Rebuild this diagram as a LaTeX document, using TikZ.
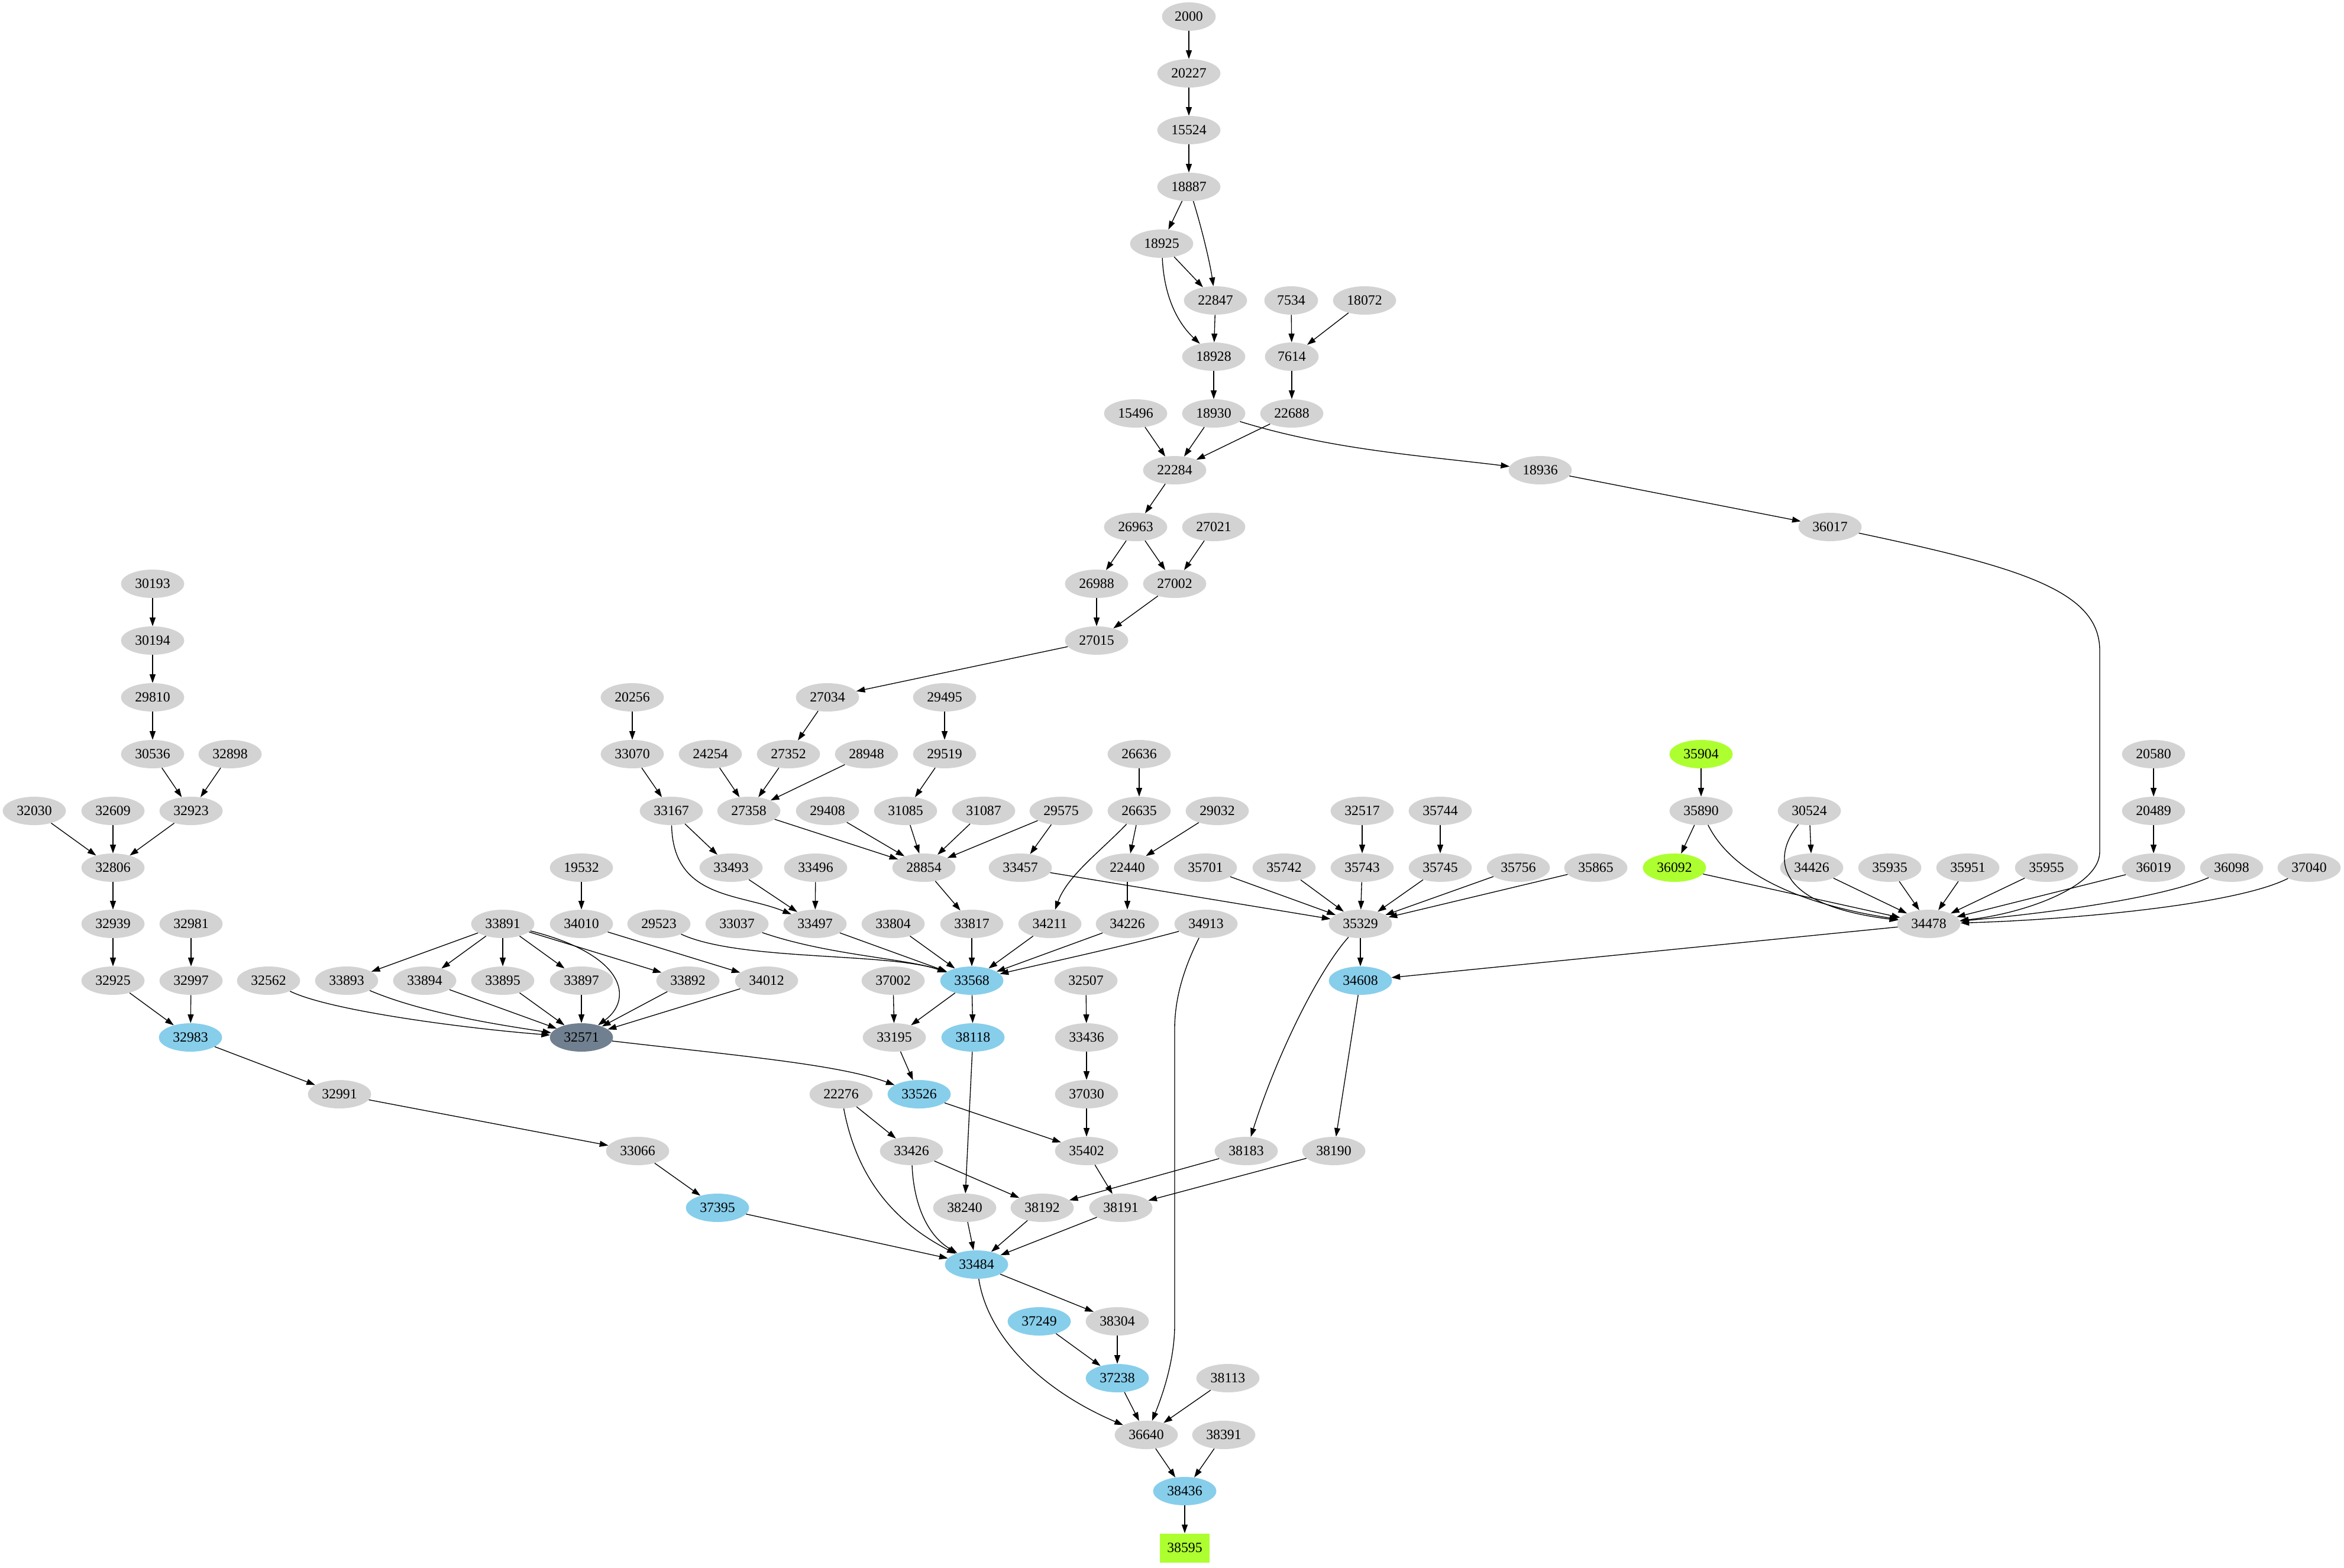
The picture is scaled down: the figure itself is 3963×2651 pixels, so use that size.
\documentclass[tikz,border=0pt]{standalone}
\usepackage{fontspec}
\setmainfont{Liberation Serif}
\usetikzlibrary{shapes.geometric,arrows.meta}
\definecolor{lgray}{HTML}{D3D3D3}
\definecolor{skyb}{HTML}{87CEEB}
\definecolor{slate}{HTML}{708090}
\definecolor{gy}{HTML}{ADFF2F}
\tikzset{
 nd/.style={ellipse, fill=lgray, minimum width=80.25pt, minimum height=36pt, inner sep=0pt, font={\fontsize{17.85}{20}\selectfont}},
 nd4/.style={nd, minimum width=68.25pt},
 blu/.style={nd, fill=skyb},
 grn/.style={nd, fill=gy},
 dk/.style={nd, fill=slate},
 bx/.style={rectangle, fill=gy, minimum width=63pt, minimum height=36.75pt, inner sep=0pt, font={\fontsize{17.85}{20}\selectfont}},
 e/.style={-{Triangle[length=11pt,width=7.5pt]}, line width=1pt},
}
\begin{document}
\begin{tikzpicture}[x=0.75pt,y=-0.75pt]
\useasboundingbox (0,0) rectangle (3963,2651);
% k0-k9
\node[nd4] (n2000) at (2010,28) {2000};
\node[nd] (n20227) at (2010,124) {20227};
\node[nd] (n15524) at (2010,220) {15524};
\node[nd] (n18887) at (2010,316) {18887};
\node[nd] (n18925) at (1964,412) {18925};
\node[nd] (n22847) at (2055,508) {22847};
\node[nd4] (n7534) at (2183,508) {7534};
\node[nd] (n18072) at (2307,508) {18072};
\node[nd] (n18928) at (2052,603) {18928};
\node[nd4] (n7614) at (2184,603) {7614};
\node[nd] (n15496) at (1920,699) {15496};
\node[nd] (n18930) at (2052,699) {18930};
\node[nd] (n22688) at (2184,699) {22688};
\node[nd] (n22284) at (1986,795) {22284};
\node[nd] (n18936) at (2604,795) {18936};
\node[nd] (n26963) at (1920,891) {26963};
\node[nd] (n27021) at (2052,891) {27021};
\node[nd] (n36017) at (3094,891) {36017};
% k10-k12
\node[nd] (n30193) at (258,987) {30193};
\node[nd] (n26988) at (1854,987) {26988};
\node[nd] (n27002) at (1986,987) {27002};
\node[nd] (n30194) at (258,1083) {30194};
\node[nd] (n27015) at (1854,1083) {27015};
\node[nd] (n29810) at (258,1179) {29810};
\node[nd] (n20256) at (1069,1179) {20256};
\node[nd] (n27034) at (1399,1179) {27034};
\node[nd] (n29495) at (1597,1179) {29495};
% k13
\node[nd] (n30536) at (258,1275) {30536};
\node[nd] (n32898) at (389,1275) {32898};
\node[nd] (n33070) at (1069,1275) {33070};
\node[nd] (n24254) at (1201,1275) {24254};
\node[nd] (n27352) at (1333,1275) {27352};
\node[nd] (n28948) at (1465,1275) {28948};
\node[nd] (n29519) at (1597,1275) {29519};
\node[nd] (n26636) at (1926,1275) {26636};
\node[grn] (n35904) at (2876,1275) {35904};
\node[nd] (n20580) at (3641,1275) {20580};
% k14
\node[nd] (n32030) at (58,1371) {32030};
\node[nd] (n32609) at (191,1371) {32609};
\node[nd] (n32923) at (323,1371) {32923};
\node[nd] (n33167) at (1135,1371) {33167};
\node[nd] (n27358) at (1266,1371) {27358};
\node[nd] (n29408) at (1399,1371) {29408};
\node[nd] (n31085) at (1531,1371) {31085};
\node[nd] (n31087) at (1663,1371) {31087};
\node[nd] (n29575) at (1794,1371) {29575};
\node[nd] (n26635) at (1926,1371) {26635};
\node[nd] (n29032) at (2058,1371) {29032};
\node[nd] (n32517) at (2303,1371) {32517};
\node[nd] (n35744) at (2435,1371) {35744};
\node[nd] (n35890) at (2876,1371) {35890};
\node[nd] (n30524) at (3059,1371) {30524};
\node[nd] (n20489) at (3641,1371) {20489};
% k15
\node[nd] (n32806) at (191,1467) {32806};
\node[nd] (n19532) at (983,1467) {19532};
\node[nd] (n33493) at (1236,1467) {33493};
\node[nd] (n33496) at (1379,1467) {33496};
\node[nd] (n28854) at (1562,1467) {28854};
\node[nd] (n33457) at (1725,1467) {33457};
\node[nd] (n22440) at (1906,1467) {22440};
\node[nd] (n35701) at (2038,1467) {35701};
\node[nd] (n35742) at (2171,1467) {35742};
\node[nd] (n35743) at (2303,1467) {35743};
\node[nd] (n35745) at (2435,1467) {35745};
\node[nd] (n35756) at (2567,1467) {35756};
\node[nd] (n35865) at (2698,1467) {35865};
\node[grn] (n36092) at (2831,1467) {36092};
\node[nd] (n34426) at (3063,1467) {34426};
\node[nd] (n35935) at (3195,1467) {35935};
\node[nd] (n35951) at (3327,1467) {35951};
\node[nd] (n35955) at (3460,1467) {35955};
\node[nd] (n36019) at (3641,1467) {36019};
\node[nd] (n36098) at (3773,1467) {36098};
\node[nd] (n37040) at (3904,1467) {37040};
% k16
\node[nd] (n32939) at (191,1562) {32939};
\node[nd] (n32981) at (323,1562) {32981};
\node[nd] (n33891) at (850,1562) {33891};
\node[nd] (n34010) at (983,1562) {34010};
\node[nd] (n29523) at (1114,1562) {29523};
\node[nd] (n33037) at (1246,1562) {33037};
\node[nd] (n33497) at (1378,1562) {33497};
\node[nd] (n33804) at (1510,1562) {33804};
\node[nd] (n33817) at (1643,1562) {33817};
\node[nd] (n34211) at (1775,1562) {34211};
\node[nd] (n34226) at (1906,1562) {34226};
\node[nd] (n34913) at (2039,1562) {34913};
\node[nd] (n35329) at (2300,1562) {35329};
\node[nd] (n34478) at (3261,1562) {34478};
% k17
\node[nd] (n32925) at (191,1658) {32925};
\node[nd] (n32997) at (323,1658) {32997};
\node[nd] (n32562) at (454,1658) {32562};
\node[nd] (n33893) at (586,1658) {33893};
\node[nd] (n33894) at (718,1658) {33894};
\node[nd] (n33895) at (850,1658) {33895};
\node[nd] (n33897) at (983,1658) {33897};
\node[nd] (n33892) at (1163,1658) {33892};
\node[nd] (n34012) at (1296,1658) {34012};
\node[nd] (n37002) at (1510,1658) {37002};
\node[blu] (n33568) at (1643,1658) {33568};
\node[nd] (n32507) at (1836,1658) {32507};
\node[blu] (n34608) at (2300,1658) {34608};
% k18-k20
\node[blu] (n32983) at (322,1754) {32983};
\node[dk] (n32571) at (983,1754) {32571};
\node[nd] (n33195) at (1512,1754) {33195};
\node[blu] (n38118) at (1645,1754) {38118};
\node[nd] (n33436) at (1837,1754) {33436};
\node[nd] (n32991) at (574,1850) {32991};
\node[nd] (n22276) at (1422,1850) {22276};
\node[blu] (n33526) at (1554,1850) {33526};
\node[nd] (n37030) at (1837,1850) {37030};
\node[nd] (n33066) at (1078,1946) {33066};
\node[nd] (n33426) at (1541,1946) {33426};
\node[nd] (n35402) at (1837,1946) {35402};
\node[nd] (n38183) at (2107,1946) {38183};
\node[nd] (n38190) at (2255,1946) {38190};
% k21-k27
\node[blu] (n37395) at (1213,2042) {37395};
\node[nd] (n38240) at (1631,2042) {38240};
\node[nd] (n38192) at (1762,2042) {38192};
\node[nd] (n38191) at (1895,2042) {38191};
\node[blu] (n33484) at (1651,2138) {33484};
\node[blu] (n37249) at (1757,2234) {37249};
\node[nd] (n38304) at (1889,2234) {38304};
\node[blu] (n37238) at (1889,2330) {37238};
\node[nd] (n38113) at (2076,2330) {38113};
\node[nd] (n36640) at (1938,2426) {36640};
\node[nd] (n38391) at (2069,2426) {38391};
\node[blu] (n38436) at (2003,2521) {38436};
\node[bx] (n38595) at (2003,2617) {38595};
% straight edges
\foreach \a/\b in {2000/20227,20227/15524,15524/18887,18887/18925,18925/22847,22847/18928,
 7534/7614,18072/7614,18928/18930,7614/22688,15496/22284,18930/22284,22688/22284,
 18936/36017,22284/26963,26963/26988,26963/27002,27021/27002,26988/27015,27002/27015,
 27015/27034,27034/27352,24254/27358,27352/27358,28948/27358,27358/28854,29408/28854,
 31085/28854,31087/28854,29575/28854,29575/33457,29495/29519,29519/31085,26636/26635,
 26635/22440,29032/22440,22440/34226,20256/33070,33070/33167,33167/33493,33493/33497,
 33496/33497,28854/33817,33497/33568,33804/33568,33817/33568,34211/33568,34226/33568,
 33457/35329,35701/35329,35742/35329,35743/35329,35745/35329,35756/35329,35865/35329,
 32517/35743,35744/35745,35329/34608,35904/35890,35890/36092,36092/34478,30524/34426,
 34426/34478,35935/34478,35951/34478,35955/34478,36019/34478,20580/20489,20489/36019,
 34478/34608,30193/30194,30194/29810,29810/30536,30536/32923,32898/32923,32030/32806,
 32609/32806,32923/32806,32806/32939,32939/32925,32925/32983,32981/32997,32997/32983,
 32983/32991,32991/33066,33066/37395,37395/33484,19532/34010,34010/34012,34012/32571,
 33891/33893,33891/33894,33891/33895,33891/33897,33891/33892,33894/32571,33895/32571,
 33897/32571,33892/32571,33568/33195,33568/38118,37002/33195,33195/33526,33526/35402,
 32507/33436,33436/37030,37030/35402,35402/38191,38118/38240,22276/33426,33426/38192,
 38183/38192,38240/33484,38192/33484,38191/33484,38190/38191,34608/38190,33484/38304,
 37249/37238,38304/37238,37238/36640,38113/36640,36640/38436,38391/38436,38436/38595}
 {\draw[e] (n\a) -- (n\b);}
% curved edges
\draw[e] (n18887) .. controls (2030,380) and (2045,440) .. (n22847);
\draw[e] (n18925) .. controls (1968,500) and (1990,545) .. (n18928);
\draw[e] (n18930) .. controls (2250,760) and (2400,770) .. (n18936);
\draw[e] (n36017) .. controls (3420,960) and (3550,1000) .. (3550,1100) -- (3550,1440) .. controls (3550,1500) and (3420,1545) .. (n34478);
\draw[e] (n33167) .. controls (1138,1520) and (1250,1510) .. (n33497);
\draw[e] (n26635) .. controls (1860,1440) and (1805,1480) .. (n34211);
\draw[e] (n34913) .. controls (1900,1600) and (1760,1630) .. (n33568);
\draw[e] (n29523) .. controls (1250,1625) and (1500,1610) .. (n33568);
\draw[e] (n33037) .. controls (1400,1615) and (1530,1620) .. (n33568);
\draw[e] (n33891) .. controls (1060,1615) and (1070,1690) .. (n32571);
\draw[e] (n32562) .. controls (560,1710) and (800,1740) .. (n32571);
\draw[e] (n33893) .. controls (720,1715) and (860,1735) .. (n32571);
\draw[e] (n32571) .. controls (1250,1785) and (1420,1800) .. (n33526);
\draw[e] (n22276) .. controls (1450,2000) and (1520,2070) .. (n33484);
\draw[e] (n33426) .. controls (1545,2040) and (1570,2090) .. (n33484);
\draw[e] (n33484) .. controls (1670,2260) and (1760,2350) .. (n36640);
\draw[e] (n34913) .. controls (2000,1640) and (1986,1690) .. (1986,1740) -- (1986,2240) .. controls (1986,2300) and (1965,2360) .. (n36640);
\draw[e] (n35329) .. controls (2230,1640) and (2160,1780) .. (n38183);
\draw[e] (n30524) .. controls (2995,1450) and (3000,1530) .. (n34478);
\draw[e] (n35890) .. controls (2930,1480) and (3050,1530) .. (n34478);
\draw[e] (n36098) .. controls (3650,1520) and (3450,1545) .. (n34478);
\draw[e] (n37040) .. controls (3780,1530) and (3500,1555) .. (n34478);
\end{tikzpicture}
\end{document}
